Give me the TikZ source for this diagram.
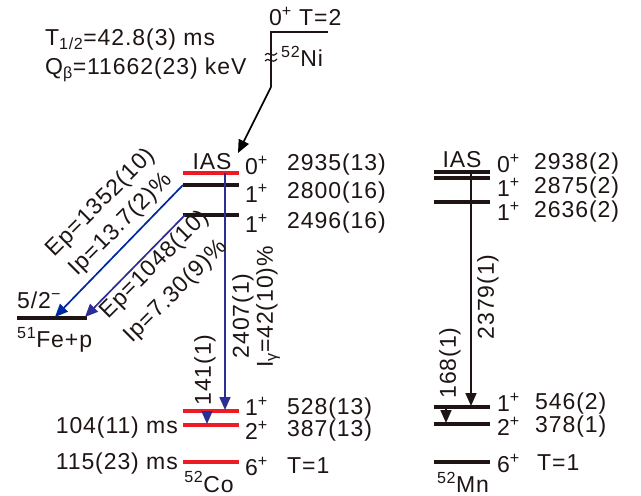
\documentclass[tikz,border=0pt]{standalone}
\usepackage{fontspec}
\setmainfont{Liberation Sans}
\usetikzlibrary{arrows.meta}
\definecolor{lvred}{RGB}{237,28,36}
\definecolor{arblue}{RGB}{0,40,160}
\definecolor{arblueb}{RGB}{45,45,150}
\definecolor{lvblack}{RGB}{30,20,20}
\newcommand{\sups}[1]{\textsuperscript{#1}}
\begin{document}
\begin{tikzpicture}[x=1pt,y=-1pt,
  font=\fontsize{23}{27}\selectfont\addfontfeature{LetterSpace=4},
  lvl/.style={line width=3.3pt},
  arr/.style={-{Triangle[length=13pt,width=11pt]}, line width=1.7pt},
  lab/.style={inner sep=0pt, text=lvblack},
  rlab/.style={inner sep=0pt, text=lvblack, rotate=90},
  dlab/.style={inner sep=0pt, text=lvblack, rotate=45}]
\useasboundingbox (0,0) rectangle (641,496);

% ---- 52Ni ----
\coordinate (niL) at (271,32);
\coordinate (niR) at (328,32);
\coordinate (niB) at (271,87);
\draw[line width=2.4pt, lvblack] (niR) -- (niL) -- (niB);
\draw[line width=1.2pt, lvblack] (265,55) .. controls (268,50) and (272,59) .. (277,53);
\draw[line width=1.2pt, lvblack] (265,61) .. controls (268,56) and (272,65) .. (277,59);
\coordinate (ciasT) at (238,153);
\draw[arr, black] (niB) -- (ciasT);
\node[lab, anchor=west] (thalf) at (45,40) {T\textsubscript{1/2}=42.8(3) ms};
\node[lab, anchor=west] (qb) at (45,70) {Q\textsubscript{β}=11662(23) keV};
\node[lab, anchor=west] (nispin) at (269,16) {0\sups{+} T=2};
\node[lab, anchor=west] (niname) at (281,56) {\sups{52}Ni};

% ---- 52Co ----
\draw[lvl, lvred] (183,173) -- (239,173);
\draw[lvl, lvblack] (183,185) -- (239,185);
\draw[lvl, lvblack] (183,215) -- (239,215);
\draw[lvl, lvred] (183,411) -- (239,411);
\draw[lvl, lvred] (183,425) -- (239,425);
\draw[lvl, lvred] (183,462) -- (239,462);

\node[lab] (cias) at (212,162) {IAS};
\node[lab, anchor=west] (cs1) at (245,165) {0\sups{+}};
\node[lab, anchor=west] (ce1) at (287,165) {2935(13)};
\node[lab, anchor=west] (cs2) at (245,193) {1\sups{+}};
\node[lab, anchor=west] (ce2) at (287,193) {2800(16)};
\node[lab, anchor=west] (cs3) at (245,223) {1\sups{+}};
\node[lab, anchor=west] (ce3) at (287,223) {2496(16)};
\node[lab, anchor=west] (cs4) at (245,406) {1\sups{+}};
\node[lab, anchor=west] (ce4) at (287,409) {528(13)};
\node[lab, anchor=west] (cs5) at (245,430) {2\sups{+}};
\node[lab, anchor=west] (ce5) at (287,431) {387(13)};
\node[lab, anchor=west] (cs6) at (245,466) {6\sups{+}};
\node[lab, anchor=west] (ce6) at (287,466) {T=1};
\node[lab, anchor=east] (chl1) at (178,428) {104(11) ms};
\node[lab, anchor=east] (chl2) at (178,464) {115(23) ms};
\node[lab] (coname) at (209,482) {\sups{52}Co};

\coordinate (cgTop) at (225,173);
\coordinate (cgBot) at (225,410);
\draw[arr, arblueb] (cgTop) -- (cgBot);
\coordinate (cg2Top) at (207,411);
\coordinate (cg2Bot) at (207,424);
\draw[arr, arblueb] (cg2Top) -- (cg2Bot);
\node[rlab] (cg1lab) at (243,316) {2407(1)};
\node[rlab] (cg1int) at (268,307) {I\textsubscript{γ}=42(10)\%};
\node[rlab] (cg2lab) at (205,370) {141(1)};

% ---- 51Fe+p ----
\draw[lvl, lvblack] (17,318) -- (87,318);
\node[lab, anchor=west] (fespin) at (17,300) {5/2\sups{−}};
\node[lab, anchor=west] (fename) at (17,340) {\sups{51}Fe+p};
\coordinate (c2800L) at (183,185);
\coordinate (feA) at (55,317);
\draw[arr, arblue] (c2800L) -- (feA);
\coordinate (c2496L) at (185,215);
\coordinate (feB) at (85,317);
\draw[arr, arblueb] (c2496L) -- (feB);
\node[dlab] (ep1) at (101,203) {Ep=1352(10)};
\node[dlab] (ip1) at (121,225) {Ip=13.7(2)\%};
\node[dlab] (ep2) at (155,265) {Ep=1048(10)};
\node[dlab] (ip2) at (176,292) {Ip=7.30(9)\%};

% ---- 52Mn ----
\draw[lvl, lvblack] (434,172) -- (490,172);
\draw[lvl, lvblack] (434,178) -- (490,178);
\draw[lvl, lvblack] (434,202) -- (490,202);
\draw[lvl, lvblack] (434,407) -- (490,407);
\draw[lvl, lvblack] (434,424) -- (490,424);
\draw[lvl, lvblack] (434,462) -- (490,462);

\node[lab] (mias) at (462,160) {IAS};
\node[lab, anchor=west] (ms1) at (497,163) {0\sups{+}};
\node[lab, anchor=west] (me1) at (534,164) {2938(2)};
\node[lab, anchor=west] (ms2) at (497,187) {1\sups{+}};
\node[lab, anchor=west] (me2) at (534,188) {2875(2)};
\node[lab, anchor=west] (ms3) at (497,211) {1\sups{+}};
\node[lab, anchor=west] (me3) at (534,212) {2636(2)};
\node[lab, anchor=west] (ms4) at (497,402) {1\sups{+}};
\node[lab, anchor=west] (me4) at (535,404) {546(2)};
\node[lab, anchor=west] (ms5) at (497,426) {2\sups{+}};
\node[lab, anchor=west] (me5) at (535,427) {378(1)};
\node[lab, anchor=west] (ms6) at (497,463) {6\sups{+}};
\node[lab, anchor=west] (me6) at (537,463) {T=1};
\node[lab] (mnname) at (463,482) {\sups{52}Mn};

\coordinate (mgTop) at (471,172);
\coordinate (mgBot) at (471,406);
\draw[arr, lvblack] (mgTop) -- (mgBot);
\coordinate (mg2Top) at (446,407);
\coordinate (mg2Bot) at (446,423);
\draw[arr, lvblack] (mg2Top) -- (mg2Bot);
\node[rlab] (mg1lab) at (488,297) {2379(1)};
\node[rlab] (mg2lab) at (450,363) {168(1)};
\end{tikzpicture}
\end{document}
